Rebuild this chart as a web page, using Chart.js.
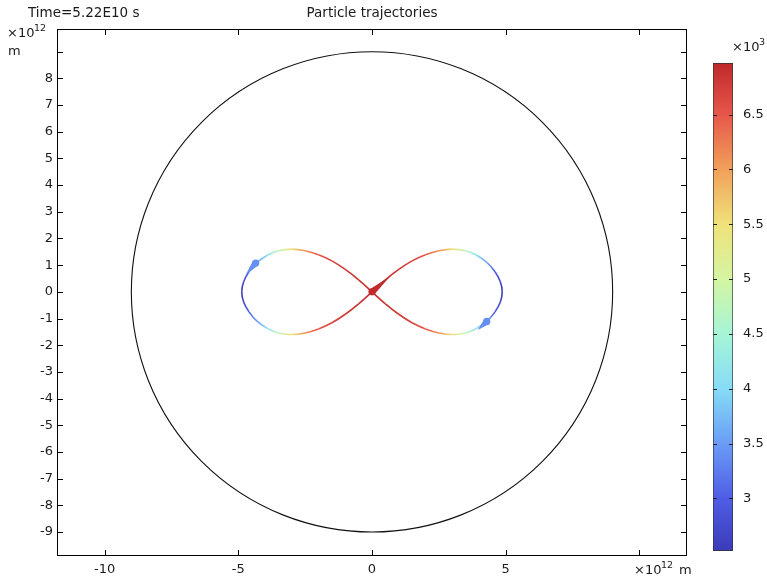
<!DOCTYPE html>
<html>
<head>
<meta charset="utf-8">
<script src="https://cdn.jsdelivr.net/npm/chart.js@4.4.1/dist/chart.umd.min.js"></script>
<style>
  body { margin: 0; background: #fff; }
  #wrap { position: relative; width: 767px; height: 579px; }
  #chart { position: absolute; left: 0; top: 0; }
  #bar { position: absolute; left: 690px; top: 0; }
</style>
</head>
<body>
<div id="wrap">
  <canvas id="chart" width="767" height="579"></canvas>
  <canvas id="bar" width="77" height="579"></canvas>
</div>
<script>
// axis ranges (x10^12 m)
const xRange = [-11.78, 11.78];
const yRange = [-9.9, 9.85];
const circleRadius = 9;

// figure-eight trajectory, speed in x10^3 m/s
const trajX = [
  0, -0.5, -1.0, -1.5, -2.0, -2.5, -3.0, -3.5, -3.9, -4.3, -4.6, -4.8, -4.87,
  -4.8, -4.6, -4.3, -3.9, -3.5, -3.0, -2.5, -2.0, -1.5, -1.0, -0.5,
  0, 0.5, 1.0, 1.5, 2.0, 2.5, 3.0, 3.5, 3.9, 4.3, 4.6, 4.8, 4.87,
  4.8, 4.6, 4.3, 3.9, 3.5, 3.0, 2.5, 2.0, 1.5, 1.0, 0.5, 0
];
const trajY = [
  0, 0.45, 0.84, 1.16, 1.39, 1.54, 1.6, 1.54, 1.38, 1.1, 0.75, 0.38, 0,
  -0.38, -0.75, -1.1, -1.38, -1.54, -1.6, -1.54, -1.39, -1.16, -0.84, -0.45,
  0, 0.45, 0.84, 1.16, 1.39, 1.54, 1.6, 1.54, 1.38, 1.1, 0.75, 0.38, 0,
  -0.38, -0.75, -1.1, -1.38, -1.54, -1.6, -1.54, -1.39, -1.16, -0.84, -0.45, 0
];
const trajSpeed = [
  6.9, 6.88, 6.82, 6.7, 6.5, 6.1, 5.5, 4.8, 4.1, 3.5, 3.0, 2.7, 2.55,
  2.7, 3.0, 3.5, 4.1, 4.8, 5.5, 6.1, 6.5, 6.7, 6.82, 6.88,
  6.9, 6.88, 6.82, 6.7, 6.5, 6.1, 5.5, 4.8, 4.1, 3.5, 3.0, 2.7, 2.55,
  2.7, 3.0, 3.5, 4.1, 4.8, 5.5, 6.1, 6.5, 6.7, 6.82, 6.88, 6.9
];

// the three bodies: head position, tail end, speed
const bodyX = [0, -4.35, 4.29];
const bodyY = [0, 1.08, -1.11];
const tailX = [0.67, -4.72, 3.96];
const tailY = [0.57, 0.64, -1.43];
const bodySpeed = [6.95, 3.4, 3.4];

// colour bar
const cbRange = [2.52, 6.97];
const cmapValues = [2.52, 3.0, 3.5, 4.0, 4.5, 5.0, 5.5, 6.0, 6.5, 6.97];
const cmapColors = ["#3a3cb8", "#4f5de6", "#6a9cf6", "#86dcf7", "#a6f5d6",
  "#d4f5a2", "#f0e27a", "#f1a05a", "#e6574a", "#c0282a"];

const font = "DejaVu Sans";
const textColor = "#1a1a1a";

function hexRgb(h) {
  return [parseInt(h.slice(1, 3), 16), parseInt(h.slice(3, 5), 16), parseInt(h.slice(5, 7), 16)];
}

function colorAt(v) {
  if (v <= cmapValues[0]) return cmapColors[0];
  for (let i = 1; i < cmapValues.length; i++) {
    if (v <= cmapValues[i]) {
      const t = (v - cmapValues[i - 1]) / (cmapValues[i] - cmapValues[i - 1]);
      const a = hexRgb(cmapColors[i - 1]), b = hexRgb(cmapColors[i]);
      const c = a.map((k, j) => Math.round(k + (b[j] - k) * t));
      return `rgb(${c[0]},${c[1]},${c[2]})`;
    }
  }
  return cmapColors[cmapColors.length - 1];
}

const trajData = trajX.map((x, i) => ({ x: x, y: trajY[i] }));

// circle, frame, inward ticks, texts and the particle markers
const decorPlugin = {
  id: "decor",
  beforeDatasetsDraw(chart) {
    const { ctx, scales } = chart;
    const cx = scales.x.getPixelForValue(0), cy = scales.y.getPixelForValue(0);
    const rx = scales.x.getPixelForValue(circleRadius) - cx;
    const ry = cy - scales.y.getPixelForValue(circleRadius);
    ctx.save();
    ctx.strokeStyle = "#111";
    ctx.lineWidth = 1.1;
    ctx.beginPath();
    ctx.ellipse(cx, cy, rx, ry, 0, 0, Math.PI * 2);
    ctx.stroke();
    ctx.restore();
  },
  afterDatasetsDraw(chart) {
    const { ctx, scales } = chart;
    ctx.save();
    bodyX.forEach((bx, i) => {
      const hx = scales.x.getPixelForValue(bx), hy = scales.y.getPixelForValue(bodyY[i]);
      const tx = scales.x.getPixelForValue(tailX[i]), ty = scales.y.getPixelForValue(tailY[i]);
      const len = Math.hypot(tx - hx, ty - hy);
      const nx = -(ty - hy) / len, ny = (tx - hx) / len;
      ctx.fillStyle = colorAt(bodySpeed[i]);
      ctx.beginPath();
      ctx.moveTo(hx + nx * 3.5, hy + ny * 3.5);
      ctx.lineTo(tx, ty);
      ctx.lineTo(hx - nx * 3.5, hy - ny * 3.5);
      ctx.closePath();
      ctx.fill();
      ctx.beginPath();
      ctx.arc(hx, hy, 3.6, 0, Math.PI * 2);
      ctx.fill();
    });
    ctx.restore();
  },
  afterDraw(chart) {
    const { ctx, chartArea: a, scales } = chart;
    ctx.save();
    ctx.strokeStyle = "#000";
    ctx.lineWidth = 1;
    ctx.strokeRect(Math.round(a.left) + 0.5, Math.round(a.top) + 0.5,
      Math.round(a.right - a.left) - 1, Math.round(a.bottom - a.top) - 1);
    ctx.beginPath();
    scales.x.ticks.forEach(t => {
      const px = Math.round(scales.x.getPixelForValue(t.value)) + 0.5;
      ctx.moveTo(px, a.bottom); ctx.lineTo(px, a.bottom - 6);
      ctx.moveTo(px, a.top); ctx.lineTo(px, a.top + 6);
    });
    scales.y.ticks.forEach(t => {
      const py = Math.round(scales.y.getPixelForValue(t.value)) + 0.5;
      ctx.moveTo(a.left, py); ctx.lineTo(a.left + 6, py);
      ctx.moveTo(a.right, py); ctx.lineTo(a.right - 6, py);
    });
    ctx.stroke();

    ctx.fillStyle = textColor;
    ctx.textBaseline = "middle";
    ctx.font = `13.5px "${font}"`;
    ctx.textAlign = "left";
    ctx.fillText("Time=5.22E10 s", 28, 13);
    ctx.textAlign = "center";
    ctx.fillText("Particle trajectories", (a.left + a.right) / 2, 13);
    ctx.textAlign = "left";
    ctx.font = `13px "${font}"`;
    ctx.fillText("×10", 7, 34);
    ctx.font = `9.5px "${font}"`;
    ctx.fillText("12", 34, 29);
    ctx.font = `13px "${font}"`;
    ctx.fillText("m", 8, 52);
    ctx.fillText("×10", 634, 571);
    ctx.fillText("m", 679, 571);
    ctx.font = `9.5px "${font}"`;
    ctx.fillText("12", 661, 566);
    ctx.restore();
  }
};

new Chart(document.getElementById("chart"), {
  type: "scatter",
  data: {
    datasets: [{
      data: trajData,
      showLine: true,
      tension: 0.4,
      borderWidth: 1.6,
      pointRadius: 0,
      segment: {
        borderColor: c => {
          const g = c.chart.ctx.createLinearGradient(c.p0.x, c.p0.y, c.p1.x, c.p1.y);
          g.addColorStop(0, colorAt(trajSpeed[c.p0DataIndex]));
          g.addColorStop(1, colorAt(trajSpeed[c.p1DataIndex]));
          return g;
        }
      }
    }]
  },
  options: {
    responsive: false,
    animation: false,
    events: [],
    layout: { padding: { top: 29, right: 80, left: 0, bottom: 0 } },
    plugins: { legend: { display: false }, tooltip: { enabled: false } },
    scales: {
      x: {
        type: "linear",
        min: xRange[0],
        max: xRange[1],
        grid: { display: false, drawTicks: false },
        border: { display: false },
        afterFit: s => { s.height = 23; },
        ticks: {
          stepSize: 5,
          includeBounds: false,
          maxRotation: 0,
          padding: 6,
          color: textColor,
          font: { family: font, size: 13 },
          callback: v => (v === 10 ? "" : v)
        }
      },
      y: {
        type: "linear",
        min: yRange[0],
        max: yRange[1],
        grid: { display: false, drawTicks: false },
        border: { display: false },
        afterFit: s => { s.width = 57; },
        ticks: {
          stepSize: 1,
          includeBounds: false,
          padding: 4,
          color: textColor,
          font: { family: font, size: 13 },
          callback: v => (v === 9 ? "" : v)
        }
      }
    }
  },
  plugins: [decorPlugin]
});

// colour bar ticks on both edges and the exponent
const barPlugin = {
  id: "barDecor",
  afterDraw(chart) {
    const { ctx, chartArea: a, scales } = chart;
    ctx.save();
    ctx.strokeStyle = "#222";
    ctx.lineWidth = 1;
    ctx.beginPath();
    scales.y.ticks.forEach(t => {
      const py = Math.round(scales.y.getPixelForValue(t.value)) + 0.5;
      ctx.moveTo(a.left, py); ctx.lineTo(a.left + 4, py);
      ctx.moveTo(a.right, py); ctx.lineTo(a.right - 4, py);
    });
    ctx.stroke();
    ctx.fillStyle = textColor;
    ctx.textBaseline = "middle";
    ctx.font = `13px "${font}"`;
    ctx.fillText("×10", 42, 48);
    ctx.font = `9.5px "${font}"`;
    ctx.fillText("3", 69, 43);
    ctx.restore();
  }
};

new Chart(document.getElementById("bar"), {
  type: "bar",
  data: {
    labels: [""],
    datasets: [{
      data: [[cbRange[0], cbRange[1]]],
      barPercentage: 1,
      categoryPercentage: 1,
      borderWidth: 1,
      borderColor: "#333",
      borderSkipped: false,
      backgroundColor: c => {
        const area = c.chart.chartArea;
        if (!area) return cmapColors[0];
        const g = c.chart.ctx.createLinearGradient(0, area.bottom, 0, area.top);
        cmapValues.forEach((v, i) => {
          g.addColorStop((v - cbRange[0]) / (cbRange[1] - cbRange[0]), cmapColors[i]);
        });
        return g;
      }
    }]
  },
  options: {
    responsive: false,
    animation: false,
    events: [],
    layout: { padding: { top: 63, left: 23, bottom: 28, right: 0 } },
    plugins: { legend: { display: false }, tooltip: { enabled: false } },
    scales: {
      x: { display: false },
      y: {
        position: "right",
        min: cbRange[0],
        max: cbRange[1],
        grid: { display: false, drawTicks: false },
        border: { display: false },
        afterFit: s => { s.width = 34; },
        ticks: {
          stepSize: 0.5,
          includeBounds: false,
          padding: 10,
          color: textColor,
          font: { family: font, size: 13 },
          callback: v => String(Number(v.toFixed(2)))
        }
      }
    }
  },
  plugins: [barPlugin]
});
</script>
</body>
</html>
